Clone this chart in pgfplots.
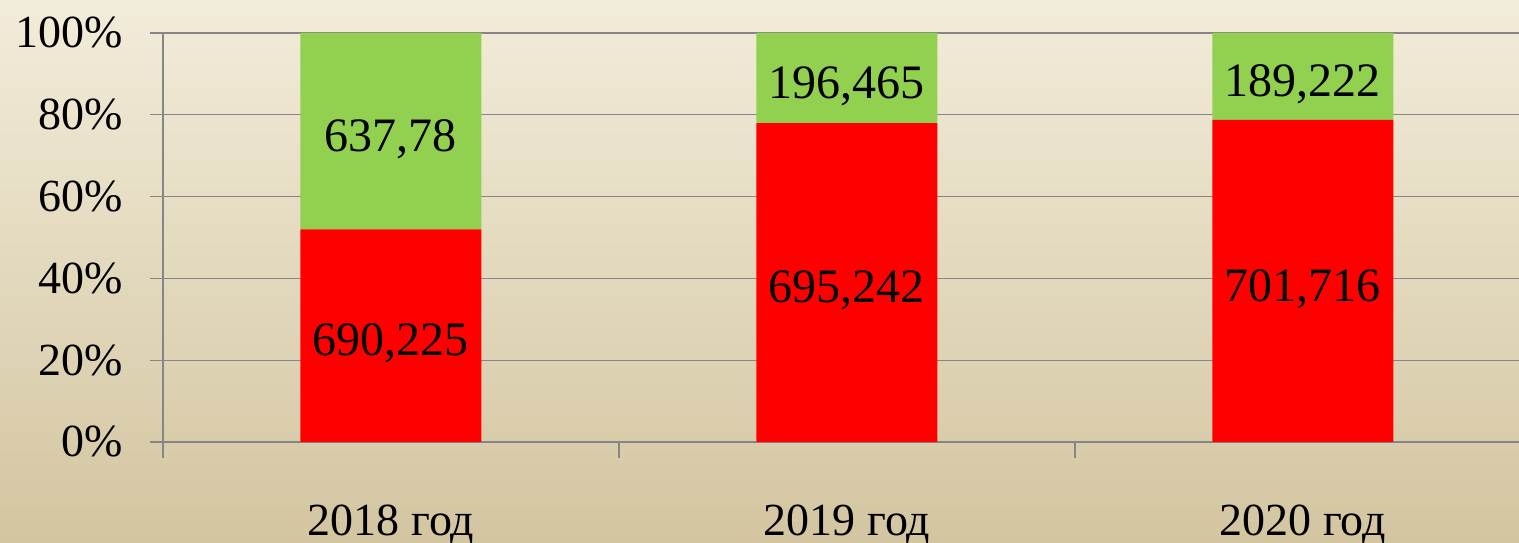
\documentclass[border=0pt]{standalone}
\usepackage{pgfplots}
\pgfplotsset{compat=1.18}
\usepackage{fontspec}
\setmainfont{Liberation Serif}
\definecolor{bgtop}{RGB}{242,236,218}
\definecolor{bgbot}{RGB}{211,197,160}
\definecolor{barred}{RGB}{255,0,0}
\definecolor{bargreen}{RGB}{146,208,80}
\definecolor{gridgrey}{RGB}{134,134,134}
\begin{document}
\begin{tikzpicture}[x=1pt,y=1pt]
\shade[top color=bgtop, bottom color=bgbot] (0,0) rectangle (759.5,271);
\useasboundingbox (0,0) rectangle (759.5,271);
\pgfplotsset{mybase/.style={
  at={(81.5pt,50pt)}, anchor=south west,
  width=678pt, height=204.5pt, scale only axis,
  xmin=-0.5, xmax=2.474, ymin=0, ymax=100,
}}
\begin{axis}[mybase, ybar stacked, bar width=90.5pt,
  axis x line*=bottom, axis y line*=left,
  axis line style={gridgrey, line width=0.7pt},
  ymajorgrids, grid style={gridgrey, line width=0.7pt},
  tick align=outside,
  ytick={0,20,40,60,80,100},
  yticklabels={0\%,20\%,40\%,60\%,80\%,100\%},
  major tick length=6.5pt, minor tick length=8pt,
  ytick style={gridgrey, line width=0.7pt},
  xtick={0,1,2},
  xticklabels={2018 год,2019 год,2020 год},
  major x tick style={draw=none},
  minor xtick={-0.5,0.5,1.5},
  minor x tick style={gridgrey, line width=0.7pt},
  tick label style={font=\fontsize{23}{23}\selectfont, text=black},
  xticklabel style={anchor=base, yshift=-40pt},
  yticklabel style={anchor=east, xshift=-10pt},
]
\addplot[fill=barred, draw=none] coordinates {(0,51.975) (1,77.968) (2,78.762)};
\addplot[fill=bargreen, draw=none] coordinates {(0,48.025) (1,22.032) (2,21.238)};
\end{axis}
\begin{axis}[mybase, hide axis]
\addplot[draw=none, mark=none, nodes near coords, point meta=explicit symbolic,
  every node near coord/.style={anchor=center, yshift=-4pt, font=\fontsize{24}{24}\selectfont, text=black}]
  table[meta=lab] {
x y lab
0 25.987 690,225
0 75.987 637,78
1 38.984 695,242
1 88.984 196,465
2 39.381 701,716
2 89.381 189,222
};
\end{axis}
\end{tikzpicture}
\end{document}
